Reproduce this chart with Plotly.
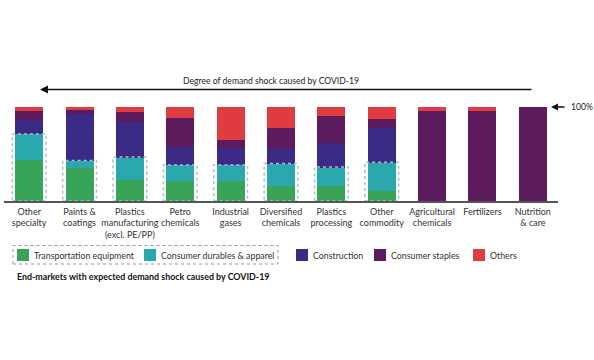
import plotly.graph_objects as go

categories = ["Other<br>specialty", "Paints &<br>coatings", "Plastics<br>manufacturing<br>(excl. PE/PP)",
              "Petro<br>chemicals", "Industrial<br>gases", "Diversified<br>chemicals",
              "Plastics<br>processing", "Other<br>commodity", "Agricultural<br>chemicals",
              "Fertilizers", "Nutrition<br>& care"]
transportation = [43.4, 35.6, 22.0, 21.4, 21.4, 15.7, 15.7, 10.7, 0, 0, 0]
consumer_durables = [27.4, 6.8, 24.2, 16.4, 16.4, 23.5, 19.9, 29.9, 0, 0, 0]
construction = [15.3, 50.2, 37.4, 19.2, 18.1, 16.0, 26.0, 36.7, 0, 0, 0]
consumer_staples = [9.6, 4.3, 10.7, 31.0, 8.9, 22.4, 29.2, 10.3, 95.7, 95.7, 100]
others = [4.3, 3.1, 5.7, 12.0, 35.2, 22.4, 9.2, 12.4, 4.3, 4.3, 0]
shock_flag = [1, 1, 1, 1, 1, 1, 1, 1, 0, 0, 0]

series = [
    ("Transportation equipment", transportation, "#37a457"),
    ("Consumer durables & apparel", consumer_durables, "#2ba7ae"),
    ("Construction", construction, "#3b2b86"),
    ("Consumer staples", consumer_staples, "#5c1b5c"),
    ("Others", others, "#e03b40"),
]

FONT = "Lato"
W, H = 594, 360
L, R, T, B = 4, 36, 107, 159
PW, PH = W - L - R, H - T - B


def px(x):
    """screen pixel x -> paper x"""
    return (x - L) / PW


def py(y):
    """screen pixel y -> paper y"""
    return (H - B - y) / PH


xs = list(range(len(categories)))
fig = go.Figure()
for name, vals, color in series:
    fig.add_trace(go.Bar(x=xs, y=vals, name=name, marker=dict(color=color, line=dict(width=0)),
                         showlegend=False, hoverinfo="skip"))

# dotted boxes around end-markets with demand shock
for i, flag in enumerate(shock_flag):
    if flag:
        top = transportation[i] + consumer_durables[i]
        fig.add_shape(type="rect", xref="x", yref="y", x0=i - 0.335, x1=i + 0.335, y0=0, y1=top + 0.6,
                      line=dict(color="#a3c2cc", width=1.5, dash="dot"), fillcolor="rgba(0,0,0,0)",
                      layer="above")

# top arrow & title
fig.add_annotation(xref="paper", yref="paper", x=px(271), y=py(80.5), xanchor="center", yanchor="middle",
                   text="Degree of demand shock caused by COVID-19",
                   showarrow=False, font=dict(family=FONT, size=8.6, color="#222"))
fig.add_annotation(xref="paper", yref="paper", x=px(40), y=py(89.5), axref="pixel", ayref="pixel",
                   ax=493, ay=0, text="", showarrow=True, arrowhead=2, arrowsize=1, arrowwidth=1.6,
                   arrowcolor="#111")
# 100% marker
fig.add_annotation(xref="paper", yref="paper", x=px(551), y=py(107), ax=15, ay=0, text="", showarrow=True,
                   arrowhead=2, arrowsize=1, arrowwidth=1.4, arrowcolor="#111")
fig.add_annotation(xref="paper", yref="paper", x=px(569), y=py(107), xanchor="left", yanchor="middle",
                   text="100%", showarrow=False, font=dict(family=FONT, size=8.6, color="#222"))

# legend box
fig.add_shape(type="rect", xref="paper", yref="paper", x0=px(13), x1=px(278), y0=py(264), y1=py(245.5),
              line=dict(color="#999", width=1, dash="dot"))
sq = [17, 144, 296, 374, 473]
for (name, vals, color), x0 in zip(series, sq):
    fig.add_shape(type="rect", xref="paper", yref="paper", x0=px(x0), x1=px(x0 + 12), y0=py(261), y1=py(249),
                  fillcolor=color, line=dict(width=0))
    fig.add_annotation(xref="paper", yref="paper", x=px(x0 + 15), y=py(255), xanchor="left", yanchor="middle",
                       text=name, showarrow=False, font=dict(family=FONT, size=8.8, color="#333"))

fig.add_annotation(xref="paper", yref="paper", x=px(15), y=py(276), xanchor="left", yanchor="middle",
                   text="<b>End-markets with expected demand shock caused by COVID-19</b>",
                   showarrow=False, font=dict(family=FONT, size=8.9, color="#111"))

fig.update_layout(
    width=W, height=H, margin=dict(l=L, r=R, t=T, b=B, autoexpand=False),
    barmode="stack", bargap=0.444,
    paper_bgcolor="white", plot_bgcolor="white",
    font=dict(family=FONT, size=9, color="#333"),
    xaxis=dict(range=[-0.5, 10.5], tickmode="array", tickvals=xs, ticktext=categories,
               showline=True, linecolor="#555", linewidth=1.5, showgrid=False, zeroline=False,
               ticks="", ticklabelstandoff=1, automargin=False,
               tickfont=dict(family=FONT, size=9, color="#333")),
    yaxis=dict(range=[0, 100], visible=False, showgrid=False, zeroline=False),
)

fig.write_html("out.html", config={"displayModeBar": False},
               post_script="document.body.style.margin='0';")
